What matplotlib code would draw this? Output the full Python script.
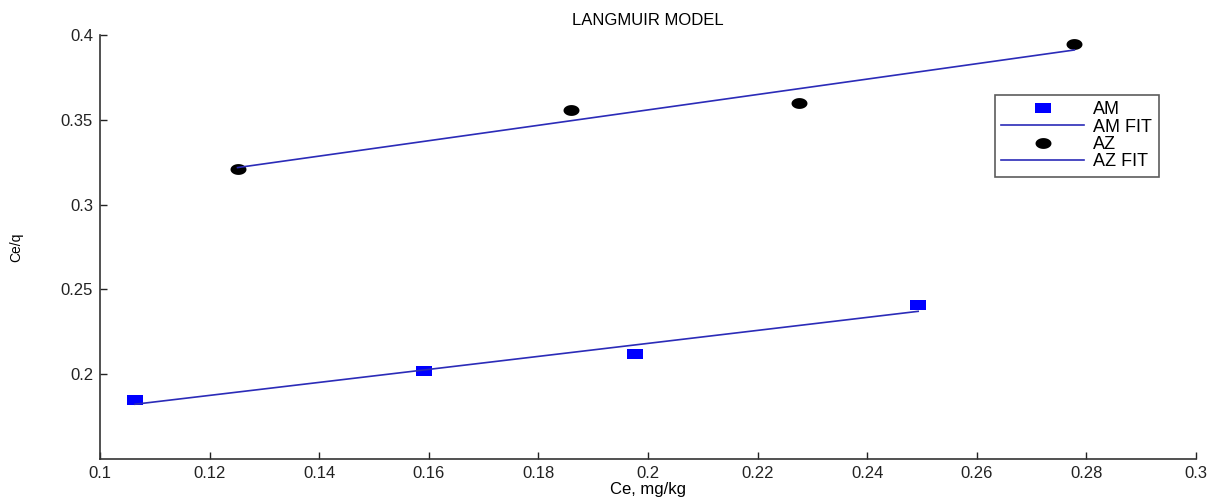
import numpy as np
import matplotlib.pyplot as plt
from matplotlib.path import Path

# data
am_x = [0.1064, 0.1591, 0.1976, 0.2493]
am_y = [0.1847, 0.2018, 0.2118, 0.2408]
az_x = [0.1251, 0.1859, 0.2276, 0.2778]
az_y = [0.3210, 0.3555, 0.3598, 0.3945]

x_ticks = [0.1, 0.12, 0.14, 0.16, 0.18, 0.2, 0.22, 0.24, 0.26, 0.28, 0.3]
y_ticks = [0.2, 0.25, 0.3, 0.35, 0.4]
x_tick_labels = ['0.1', '0.12', '0.14', '0.16', '0.18', '0.2', '0.22', '0.24', '0.26', '0.28', '0.3']
y_tick_labels = ['0.2', '0.25', '0.3', '0.35', '0.4']

plt.rcParams['font.family'] = ['Liberation Sans', 'DejaVu Sans']

# the picture is stretched sideways, so the markers are wider than tall
rect = Path([(-1, -0.55), (1, -0.55), (1, 0.55), (-1, 0.55), (-1, -0.55)],
            [Path.MOVETO, Path.LINETO, Path.LINETO, Path.LINETO, Path.CLOSEPOLY])
t = np.linspace(0, 2 * np.pi, 40)
oval = Path(np.column_stack([np.cos(t), 0.68 * np.sin(t)]), closed=True)

fig = plt.figure(figsize=(12.13, 4.97), dpi=100)
ax = fig.add_axes([100 / 1213, 38 / 497, 1096 / 1213, 424 / 497])

line_col = '#2b2bb8'

ax.plot(am_x, am_y, linestyle='none', marker=rect, markersize=12,
        color='#0000ff', markeredgewidth=0, label='AM')
p = np.polyfit(am_x, am_y, 1)
fx = np.array([am_x[0], am_x[-1]])
ax.plot(fx, np.polyval(p, fx), color=line_col, lw=1.2, label='AM FIT')

ax.plot(az_x, az_y, linestyle='none', marker=oval, markersize=11.5,
        color='black', markeredgewidth=0, label='AZ')
p = np.polyfit(az_x, az_y, 1)
fx = np.array([az_x[0], az_x[-1]])
ax.plot(fx, np.polyval(p, fx), color=line_col, lw=1.2, label='AZ FIT')

ax.set_xlim(0.1, 0.3)
ax.set_ylim(0.15, 0.4)
ax.set_xticks(x_ticks)
ax.set_xticklabels(x_tick_labels)
ax.set_yticks(y_ticks)
ax.set_yticklabels(y_tick_labels)
ax.tick_params(direction='in', length=5, width=1, labelsize=12, colors='#222222', pad=5)

for s in ['top', 'right']:
    ax.spines[s].set_visible(False)
for s in ['left', 'bottom']:
    ax.spines[s].set_color('#333333')
    ax.spines[s].set_linewidth(1.2)

ax.set_title('LANGMUIR MODEL', fontsize=12, pad=7)
ax.set_xlabel('Ce, mg/kg', fontsize=12, labelpad=1)
ax.set_ylabel('Ce/q', fontsize=10, labelpad=27)

leg = ax.legend(loc='upper left', bbox_to_anchor=(995 / 1213, 1 - 95 / 497),
                bbox_transform=fig.transFigure, fontsize=13, frameon=True,
                fancybox=False, handlelength=4.6, handletextpad=0.5,
                labelspacing=0.02, borderpad=0.35, borderaxespad=0)
leg.get_frame().set_edgecolor('#333333')
leg.get_frame().set_linewidth(1.2)

fig.savefig('out.png', dpi=100)
